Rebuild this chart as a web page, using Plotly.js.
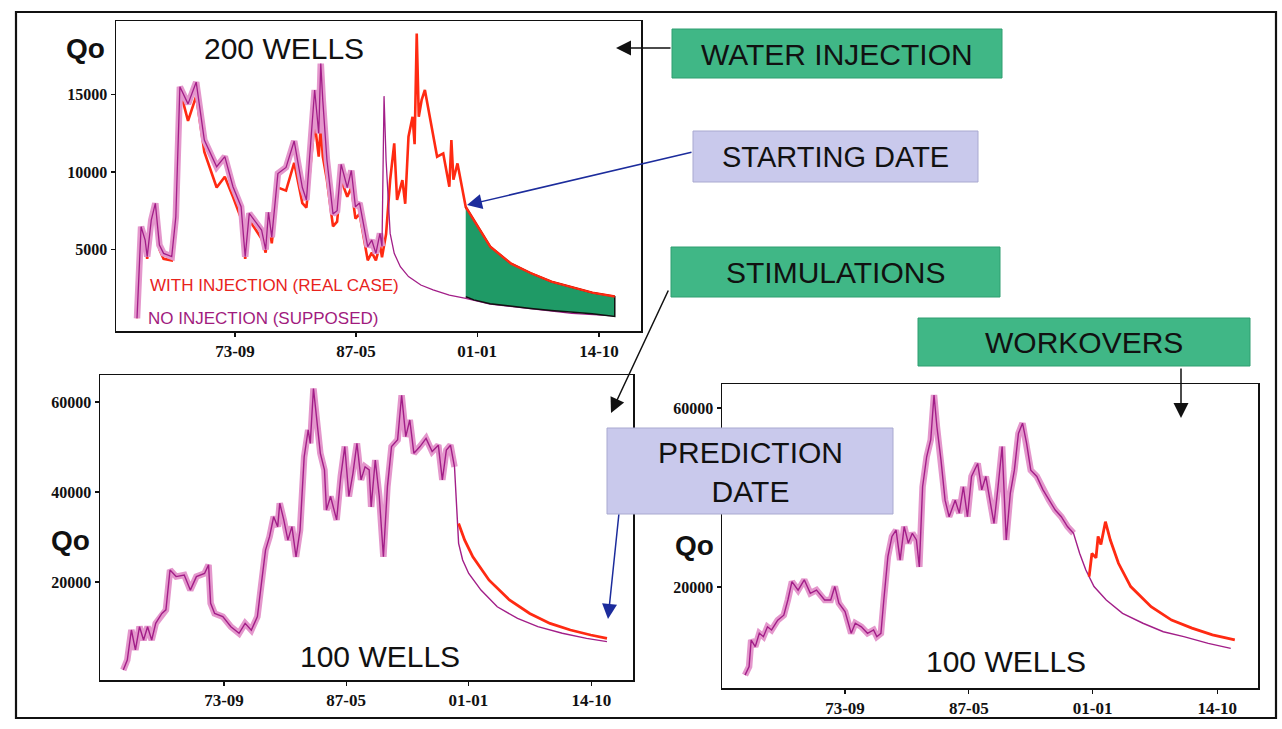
<!DOCTYPE html>
<html>
<head>
<meta charset="utf-8">
<script src="https://cdn.plot.ly/plotly-3.0.1.min.js"></script>
<style>html,body{margin:0;padding:0;background:#fff;}#chart{width:1282px;height:729px;}</style>
</head>
<body>
<div id="chart"></div>
<script>
// ---------- tick labels ----------
const tickYears = [1973.67, 1987.33, 2001.0, 2014.75];
const tickLabels = ["73-09", "87-05", "01-01", "14-10"];

// ---------- TOP CHART: 200 WELLS (water injection) ----------
const topHistYears = [1962.61,1963.07,1963.53,1963.76,1964.22,1964.68,1965.14,1965.61,1966.53,1966.99,1967.45,1968.37,1969.29,1970.21,1971.6,1972.52,1973.44,1974.36,1974.82,1975.28,1976.67,1977.13,1977.45,1977.82,1978.51,1979.43,1980.35,1981.27,1981.73,1982.2,1982.66,1983.12,1983.35,1983.58,1984.04,1984.73,1985.19,1985.65,1986.34,1986.8,1987.26,1987.73,1988.19,1988.65,1989.11,1989.57,1990.03,1990.26];
const topNoInjHist = [560,6470,5610,4540,6900,7980,5290,4750,4540,7100,15500,14400,15800,12060,10340,11000,9050,7760,4540,7330,6260,5000,7400,5800,9900,10300,12000,9000,8200,11800,15300,12500,17000,14600,10800,7300,7500,10500,9000,10100,7760,8000,6470,5180,5600,4750,6040,5200];
const topInjHist = [560,6400,5500,4400,6800,7800,5000,4400,4300,7000,15300,13300,14900,11300,9000,9700,8400,7000,4400,6900,5700,4800,6900,5400,9000,8800,10600,8000,7700,10500,13200,11000,13000,11000,9500,6500,6800,9500,8400,9000,7000,7300,5800,4300,4800,4300,5300,4500];
const topNoInjDeclYears = [1990.49,1990.72,1991.18,1991.64,1992.33,1993.25,1994.64,1996.02,1997.86,1999.71,2002.47,2005.24,2008.0,2011.69,2016.53];
const topNoInjDecl = [14900,10770,6040,4750,3890,3250,2710,2390,2060,1850,1480,1310,1100,880,710];
const topInjLateYears = [1990.72,1991.18,1991.64,1991.96,1992.56,1992.88,1993.25,1993.71,1993.94,1994.18,1994.41,1994.73,1995.1,1995.56,1996.02,1996.48,1997.17,1997.86,1998.09,1998.32,1998.78,1999.24,1999.71];
const topInjLate = [6000,9480,11850,8200,9480,7950,12280,13570,11800,18940,13570,14640,15300,13780,12490,10990,11200,9050,12060,9500,10560,9050,7740];
const topFcYears = [1999.71,2000.63,2002.47,2004.78,2007.08,2009.38,2011.69,2013.99,2016.53];
const topFcInj = [7740,6900,5180,4100,3460,2920,2540,2210,1960];
const topFcNoInj = [1950,1750,1500,1330,1200,1070,950,850,680];

// ---------- BOTTOM LEFT: 100 WELLS (stimulations) ----------
const blHistYears = [1962.4,1962.85,1963.31,1963.76,1964.22,1964.67,1965.12,1965.58,1966.03,1966.72,1967.17,1967.63,1968.31,1969.22,1969.9,1970.58,1971.49,1971.94,1972.17,1972.62,1973.53,1974.44,1975.35,1976.03,1976.72,1977.4,1977.85,1978.31,1978.76,1979.22,1979.67,1979.9,1980.35,1980.81,1981.26,1981.72,1982.17,1982.63,1983.08,1983.31,1983.67,1983.99,1984.44,1984.9,1985.12,1985.58,1986.26,1986.72,1987.17,1987.63,1988.08,1988.53,1988.99,1989.44,1989.9,1990.12,1990.58,1991.03,1991.49,1991.94,1992.4,1993.08,1993.53,1993.99,1994.44,1994.9,1995.58,1996.26,1996.94,1997.63,1998.08,1998.53,1998.99,1999.44];
const blHistQo = [440,2670,9330,4900,10070,7110,10070,7110,10800,13000,13800,22670,21200,21550,18200,21200,21900,23800,15260,13000,12300,10070,8600,10800,9300,12300,19700,27100,30070,34500,32300,37500,33800,29300,32300,25600,31500,47800,53800,50800,63000,56700,48600,44900,36000,39000,33800,43400,50100,39000,44100,50800,42700,45600,44900,36700,47100,39000,25600,41200,50100,51600,61500,52300,56000,48600,50100,51900,49000,50400,42700,49300,50400,45600];
const blDeclYears = [1999.67,1999.9,2000.35,2001.03,2002.4,2004.22,2006.49,2008.76,2011.49,2014.21,2016.49];
const blDeclQo = [36000,28600,24900,21900,18200,14500,11900,10070,8600,7480,6740];
const blStimYears = [1999.9,2000.58,2001.49,2003.31,2005.58,2007.85,2010.12,2012.4,2014.67,2016.49];
const blStimQo = [33000,29300,25600,20400,16000,13000,10800,9330,8220,7480];

// ---------- BOTTOM RIGHT: 100 WELLS (workovers) ----------
const brHistYears = [1962.63,1963.08,1963.31,1963.76,1964.21,1964.66,1965.11,1965.56,1966.24,1966.91,1967.36,1967.81,1968.49,1969.17,1969.84,1970.52,1971.42,1972.09,1972.54,1972.99,1973.67,1974.35,1974.8,1975.47,1976.15,1976.82,1977.18,1977.63,1977.95,1978.4,1978.85,1979.3,1979.75,1980.2,1980.65,1981.1,1981.55,1981.87,1982.23,1982.68,1983.13,1983.49,1983.81,1984.26,1984.71,1985.16,1985.83,1986.28,1986.73,1987.18,1987.63,1988.31,1988.76,1989.21,1989.66,1990.11,1990.56,1991.01,1991.46,1991.91,1992.36,1992.81,1993.26,1993.71,1994.17,1994.84,1995.52,1996.19,1996.87,1997.54,1998.22,1998.89];
const brHistQo = [300,2200,8150,6670,9650,8900,11100,10400,12600,13700,17100,21200,19300,21600,18600,19300,17100,17100,20100,16400,14500,9650,11900,11100,9650,10400,8900,9650,17100,26800,31300,32700,26000,33500,29800,32000,30500,24500,42400,49100,52900,62900,55800,48400,39400,35700,39400,36500,42400,35700,44700,47600,41700,44700,39400,34200,42400,51400,30500,40900,46100,54300,56600,52100,46100,44700,41700,39400,37200,35700,33500,32000];
const brDeclYears = [1999.57,2000.25,2001.15,2002.5,2004.3,2006.55,2008.8,2011.06,2013.76,2016.24];
const brDeclQo = [27500,23800,20100,17100,14100,11900,10000,8900,7400,6300];
const brWorkYears = [2000.61,2000.92,2001.37,2001.6,2001.91,2002.41,2002.95,2003.85,2005.2,2007.45,2009.71,2011.96,2014.22,2016.69];
const brWorkQo = [22300,27500,26500,31300,29500,34600,30500,25300,20100,15600,12600,10800,9300,8200];

// ---------- styling ----------
const W = 1282, H = 729;
const px = x => x / W;
const py = y => 1 - y / H;
const PINK = '#e497cc', PURPLE = '#a21e88', RED = '#ff2a12', DARKGREEN = '#1f9a66';
const BOXGREEN = '#40b786', LAVENDER = '#c9c9ec';
const SANS = 'Liberation Sans, Arial, sans-serif';
const SERIF = 'Liberation Serif, Times New Roman, serif';

function line(x, y, color, width, xa, ya, extra) {
  return Object.assign({type: 'scatter', mode: 'lines', x: x, y: y, xaxis: xa, yaxis: ya,
    line: {color: color, width: width}, hoverinfo: 'skip'}, extra || {});
}

const traces = [
  // top chart
  line(topHistYears.concat(topInjLateYears, topFcYears.slice(1)), topInjHist.concat(topInjLate, topFcInj.slice(1)), RED, 2.6, 'x', 'y'),
  line(topHistYears, topNoInjHist, PINK, 6.5, 'x', 'y'),
  line(topHistYears.concat(topNoInjDeclYears), topNoInjHist.concat(topNoInjDecl), PURPLE, 1.3, 'x', 'y'),
  line(topFcYears.concat(topFcYears.slice().reverse()), topFcInj.concat(topFcNoInj.slice().reverse()), '#111', 1.5, 'x', 'y',
       {fill: 'toself', fillcolor: DARKGREEN}),
  line(topFcYears, topFcInj, RED, 2.2, 'x', 'y'),
  // bottom left
  line(blHistYears, blHistQo, PINK, 6.5, 'x2', 'y2'),
  line(blHistYears.concat(blDeclYears), blHistQo.concat(blDeclQo), PURPLE, 1.4, 'x2', 'y2'),
  line(blStimYears, blStimQo, RED, 2.8, 'x2', 'y2'),
  // bottom right
  line(brHistYears, brHistQo, PINK, 6.5, 'x3', 'y3'),
  line(brHistYears.concat(brDeclYears), brHistQo.concat(brDeclQo), PURPLE, 1.4, 'x3', 'y3'),
  line(brWorkYears, brWorkQo, RED, 2.8, 'x3', 'y3')
];

function xAxis(dom, rng, anchor) {
  return {domain: dom, range: rng, anchor: anchor, tickmode: 'array', tickvals: tickYears, ticktext: tickLabels,
    ticks: 'outside', ticklen: 4, tickwidth: 1.2, tickcolor: '#111', showline: true, mirror: true,
    linecolor: '#111', linewidth: 1.5, showgrid: false, zeroline: false, fixedrange: true,
    tickfont: {family: SERIF, size: 17, color: '#111', weight: 'bold'}};
}
function yAxis(dom, rng, anchor, vals) {
  return {domain: dom, range: rng, anchor: anchor, tickmode: 'array', tickvals: vals, tickformat: 'd',
    ticks: 'outside', ticklen: 4, tickwidth: 1.2, tickcolor: '#111', showline: true, mirror: true,
    linecolor: '#111', linewidth: 1.5, showgrid: false, zeroline: false, fixedrange: true,
    tickfont: {family: SERIF, size: 16, color: '#111', weight: 'bold'}};
}

function label(text, cx, cy, size, color, weight) {
  return {xref: 'paper', yref: 'paper', x: px(cx), y: py(cy), xanchor: 'center', yanchor: 'middle',
    showarrow: false, text: text, font: {family: SANS, size: size, color: color || '#111', weight: weight || 'normal'}};
}
function arrow(tipX, tipY, tailX, tailY, color) {
  return {xref: 'paper', yref: 'paper', x: px(tipX), y: py(tipY), ax: tailX - tipX, ay: tailY - tipY,
    text: '', showarrow: true, arrowhead: 2, arrowsize: 2, arrowwidth: 1.5, arrowcolor: color, standoff: 0, startstandoff: 0};
}
function box(x0, y0, x1, y1, fill, edge) {
  return {type: 'rect', xref: 'paper', yref: 'paper', x0: px(x0), x1: px(x1), y0: py(y1), y1: py(y0),
    fillcolor: fill, line: {color: edge, width: 1}, layer: 'above'};
}

const layout = {
  width: W, height: H, margin: {l: 0, r: 0, t: 0, b: 0},
  paper_bgcolor: '#fff', plot_bgcolor: '#fff', showlegend: false,
  xaxis: xAxis([px(116), px(641)], [1960.24, 2019.49], 'y'),
  yaxis: yAxis([py(331), py(21)], [-260, 19750], 'x', [5000, 10000, 15000]),
  xaxis2: xAxis([px(100), px(633)], [1959.8, 2019.4], 'y2'),
  yaxis2: yAxis([py(680), py(375)], [-1780, 66000], 'x2', [20000, 40000, 60000]),
  xaxis3: xAxis([px(722), px(1258)], [1960.09, 2019.25], 'y3'),
  yaxis3: yAxis([py(688), py(384)], [-2570, 65360], 'x3', [20000, 60000]),
  shapes: [
    {type: 'rect', xref: 'paper', yref: 'paper', x0: px(16), x1: px(1276), y0: py(718), y1: py(12),
     line: {color: '#111', width: 2.2}, fillcolor: 'rgba(0,0,0,0)', layer: 'above'},
    box(672, 29, 1002, 78, BOXGREEN, '#2f9e70'),
    box(693, 131, 978, 182, LAVENDER, '#a9a9d0'),
    box(671, 247, 1000, 297, BOXGREEN, '#2f9e70'),
    box(918, 318, 1250, 366, BOXGREEN, '#2f9e70'),
    box(607, 428, 893, 514, LAVENDER, '#a9a9d0')
  ],
  annotations: [
    label('Qo', 85, 49, 28, '#111', 'bold'),
    label('200 WELLS', 284, 48, 30),
    label('WITH INJECTION (REAL CASE)', 274, 285, 17, '#e8231c'),
    label('NO INJECTION (SUPPOSED)', 263, 318, 17, '#a11b7e'),
    label('Qo', 70, 540, 28, '#111', 'bold'),
    label('100 WELLS', 380, 656, 30),
    label('Qo', 694, 545, 28, '#111', 'bold'),
    label('100 WELLS', 1006, 661, 30),
    label('WATER INJECTION', 837, 54, 30),
    label('STARTING DATE', 836, 157, 29),
    label('STIMULATIONS', 835, 272, 30),
    label('WORKOVERS', 1084, 342, 30),
    label('PREDICTION<br>DATE', 750, 472, 30),
    arrow(616, 48, 672, 48, '#111'),
    arrow(467, 205, 693, 152, '#1c2c9c'),
    arrow(611, 413, 669, 289, '#111'),
    arrow(1181, 418, 1181, 367, '#111'),
    arrow(608, 619, 619, 513, '#1c2c9c')
  ]
};

Plotly.newPlot('chart', traces, layout, {staticPlot: true, displayModeBar: false});
</script>
</body>
</html>
